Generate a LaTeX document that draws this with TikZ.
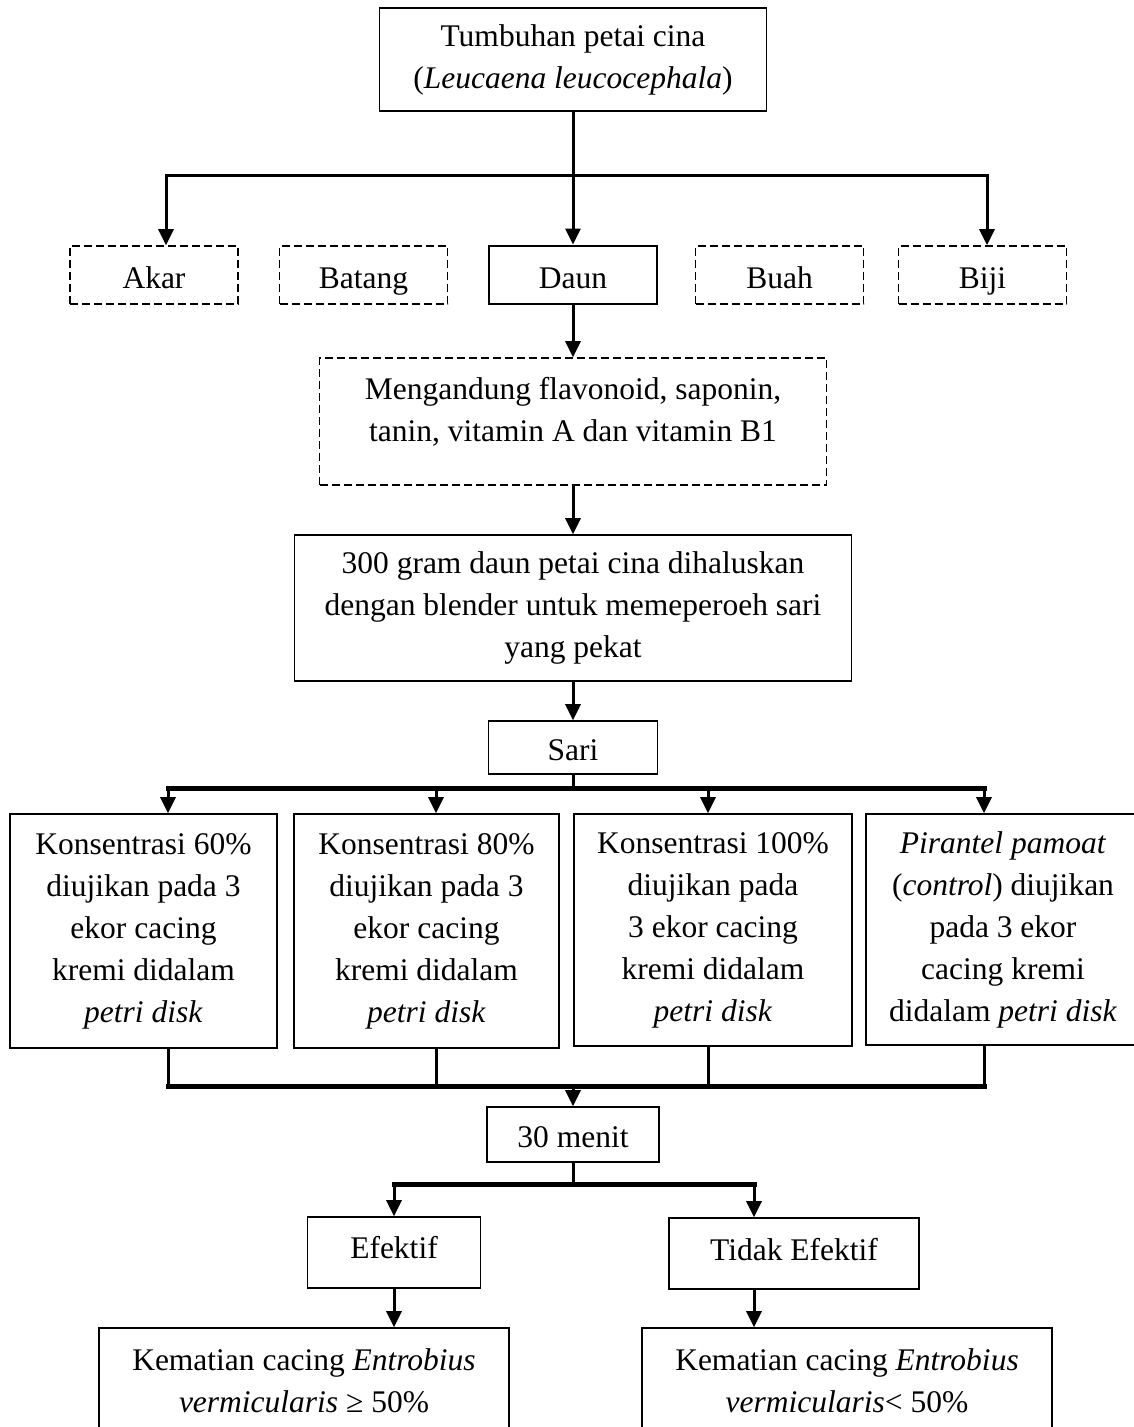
\documentclass[tikz,border=0pt]{standalone}
\usepackage{fontspec}
\setmainfont{Liberation Serif}
\usetikzlibrary{arrows.meta}
\newcommand\fsz{\fontsize{31.5}{42}\selectfont}
\begin{document}
\begin{tikzpicture}[x=1pt,y=-1pt,
  box/.style={draw, line width=1.6pt, align=center, inner sep=0pt, font=\fsz},
  dbox/.style={box, dash pattern=on 8pt off 4pt},
  one/.style={text height=30pt, text depth=4pt},
  arr/.style={line width=3pt, -{Triangle[length=16pt,width=15pt]}},
  ln/.style={line width=3pt},
  bar/.style={line width=5pt, line cap=rect}]
\useasboundingbox (0,0) rectangle (1134,1427);
\fill[white] (0,0) rectangle (1134,1427);
\clip (0,0) rectangle (1134,1427);

% top
\node[box, minimum width=387, minimum height=103] (top) at (573,59.5) {Tumbuhan petai cina\\(\textit{Leucaena leucocephala})};

% row of parts
\node[dbox, one, minimum width=168, minimum height=58] (akar) at (154,275) {Akar};
\node[dbox, one, minimum width=168, minimum height=58] (batang) at (363.5,275) {Batang};
\node[box, one, line width=2.8pt, minimum width=168, minimum height=58] (daun) at (573,275) {Daun};
\node[dbox, one, minimum width=168, minimum height=58] (buah) at (779.5,275) {Buah};
\node[dbox, one, minimum width=168, minimum height=58] (biji) at (982.5,275) {Biji};

\coordinate (j1) at (573,175);
\coordinate (bl) at (166,175);
\coordinate (br) at (987,175);
\draw[ln] (top.south) -- (j1);
\draw[ln, line cap=rect] (bl) -- (br);
\draw[arr] (bl) -- (bl |- akar.north);
\draw[arr] (j1) -- (daun.north);
\draw[arr] (br) -- (br |- biji.north);

% contents
\node[dbox, minimum width=507, minimum height=127,
  label={[font=\fsz, align=center, yshift=10pt]center:Mengandung flavonoid, saponin,\\tanin, vitamin A dan vitamin B1}] (kand) at (573,421.5) {};
\draw[arr] (daun.south) -- (kand.north);

\node[box, minimum width=557, minimum height=146] (proc) at (573,608) {300 gram daun petai cina dihaluskan\\dengan blender untuk memeperoeh sari\\yang pekat};
\draw[arr] (kand.south) -- (proc.north);

\node[box, one, minimum width=169, minimum height=53] (sari) at (573,747.5) {Sari};
\draw[arr] (proc.south) -- (sari.north);

% concentrations
\node[box, minimum width=267, minimum height=234] (b1) at (143.5,931) {Konsentrasi 60\%\\diujikan pada 3\\ekor cacing\\kremi didalam\\\textit{petri disk}};
\node[box, minimum width=265, minimum height=234] (b2) at (426.5,931) {Konsentrasi 80\%\\diujikan pada 3\\ekor cacing\\kremi didalam\\\textit{petri disk}};
\node[box, minimum width=278, minimum height=232] (b3) at (713,930) {Konsentrasi 100\%\\diujikan pada\\3 ekor cacing\\kremi didalam\\\textit{petri disk}};
\node[box, minimum width=274, minimum height=231] (b4) at (1003,929.5) {\textit{Pirantel pamoat}\\(\textit{control}) diujikan\\pada 3 ekor\\cacing kremi\\didalam \textit{petri disk}};

\coordinate (j2) at (573,788);
\coordinate (s1) at (168,788);
\coordinate (s2) at (436,788);
\coordinate (s3) at (708,788);
\coordinate (s4) at (984,788);
\draw[ln] (sari.south) -- (j2);
\draw[bar] (s1) -- (s4);
\draw[arr] (s1) -- (s1 |- b1.north);
\draw[arr] (s2) -- (s2 |- b2.north);
\draw[arr] (s3) -- (s3 |- b3.north);
\draw[arr] (s4) -- (s4 |- b4.north);

\coordinate (t1) at (168,1086);
\coordinate (t2) at (436,1086);
\coordinate (t3) at (708,1086);
\coordinate (t4) at (984,1086);
\coordinate (j3) at (573,1086);
\draw[ln] (t1 |- b1.south) -- (t1);
\draw[ln] (t2 |- b2.south) -- (t2);
\draw[ln] (t3 |- b3.south) -- (t3);
\draw[ln] (t4 |- b4.south) -- (t4);
\draw[bar] (t1) -- (t4);

\node[box, one, minimum width=172, minimum height=55] (menit) at (573,1134.5) {30 menit};
\draw[arr] (j3) -- (menit.north);

\coordinate (j4) at (573,1184);
\coordinate (e1) at (394,1184);
\coordinate (e2) at (754,1184);
\draw[ln] (menit.south) -- (j4);
\draw[bar] (e1) -- (e2);

\node[box, text height=24pt, text depth=13pt, minimum width=173, minimum height=71] (ef) at (394,1252.5) {Efektif};
\node[box, text height=25pt, text depth=12pt, minimum width=250, minimum height=71] (tef) at (794,1253.5) {Tidak Efektif};
\draw[arr] (e1) -- (ef.north);
\draw[arr] (e2) -- (e2 |- tef.north);

\node[box, minimum width=410, minimum height=106] (res1) at (304,1381) {Kematian cacing \textit{Entrobius}\\\textit{vermicularis} ≥ 50\%};
\node[box, minimum width=410, minimum height=106] (res2) at (847,1381) {Kematian cacing \textit{Entrobius}\\\textit{vermicularis}< 50\%};
\draw[arr] (ef.south) -- (ef.south |- res1.north);
\draw[arr] (e2 |- tef.south) -- (e2 |- res2.north);
\end{tikzpicture}
\end{document}
